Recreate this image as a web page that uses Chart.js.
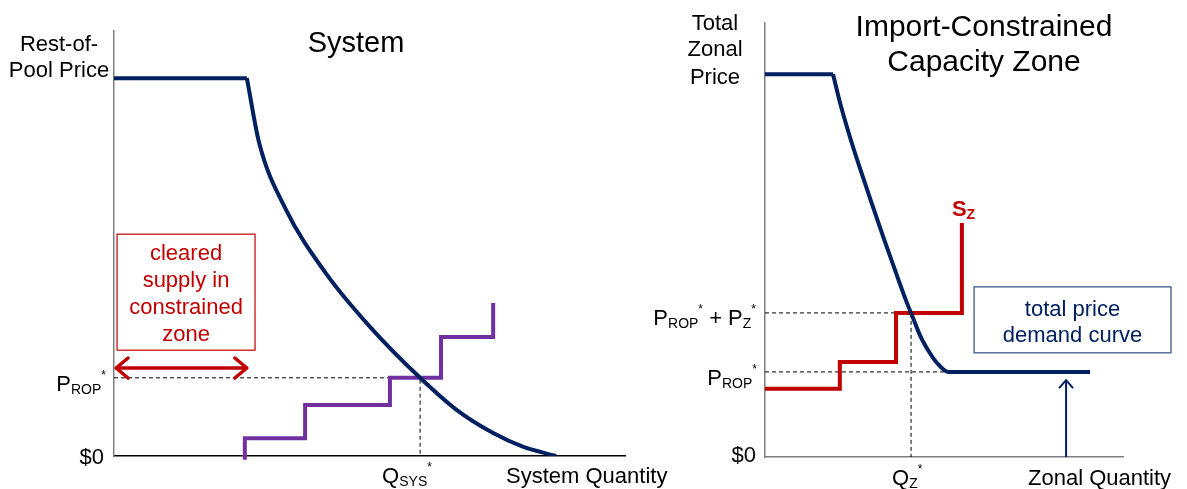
<!DOCTYPE html>
<html>
<head>
<meta charset="utf-8">
<script src="https://cdn.jsdelivr.net/npm/chart.js@4"></script>
<style>
  html, body { margin: 0; padding: 0; background: #fff; }
  body { width: 1187px; height: 489px; position: relative; overflow: hidden; }
  canvas { position: absolute; top: 0; }
  #sysChart { left: 0; }
  #zoneChart { left: 630px; }
</style>
</head>
<body>
<canvas id="sysChart" width="680" height="489"></canvas>
<canvas id="zoneChart" width="557" height="489"></canvas>
<script>
// 左圖: System (數量/價格, 0-100 的相對刻度)
const sysDemandFlatQ = [0, 26.0];
const sysDemandFlatP = [88.9, 88.9];
const sysDemandQ = [26.0, 28.4, 33.6, 41.4, 50.1, 59.9, 67.1, 74.2, 80.0, 86.5];
const sysDemandP = [88.9, 73.7, 58.1, 43.1, 30.4, 18.4, 10.8, 5.4, 2.2, 0];
const sysSupplyQ = [25.6, 25.6, 37.4, 54.0, 64.0, 74.2];
const sysSupplyP = [-0.9, 4.2, 12.0, 18.4, 28.0, 36.0];
const sysClearQ = 59.9;
const sysClearP = 18.4;
const sysArrowQ = [0.4, 26.0];
const sysArrowP = 20.7;
const sysBoxQ = [0.6, 27.6];
const sysBoxP = [24.9, 52.2];
const sysBoxLines = ['cleared', 'supply in', 'constrained', 'zone'];

// 右圖: Import-Constrained Capacity Zone
const zoneDemandFlatQ = [0, 19.0];
const zoneDemandFlatP = [88.2, 88.2];
const zoneDemandQ = [19.0, 21.0, 23.7, 26.7, 29.8, 33.0, 36.3, 39.7, 40.9, 43.5, 46.1, 48.1, 51.2, 90.8];
const zoneDemandP = [88.2, 81.5, 73.8, 66.1, 58.5, 50.8, 43.1, 35.4, 33.0, 27.7, 23.9, 21.6, 19.6, 19.6];
const zoneSupplyQ = [0, 20.9, 36.6, 55.0];
const zoneSupplyP = [15.7, 21.9, 33.2, 53.9];
const zoneClearQ = 40.8;
const zoneClearP = 33.2;
const zoneRopP = 19.6;
const zoneRopQ = 51.7;
const zoneArrowQ = 84.1;
const zoneArrowP = [0, 17.7];
const zoneBoxQ = [58.4, 113.4];
const zoneBoxP = [24.0, 39.2];
const zoneBoxLines = ['total price', 'demand curve'];

const NAVY = '#002060';
const RED = '#C00000';
const PURPLE = '#7030A0';
const GREY = '#7f7f7f';
const FONT = '"Liberation Sans", Arial, sans-serif';

const pts = (qs, ps) => qs.map((q, i) => ({ x: q, y: Array.isArray(ps) ? ps[i] : ps }));

function line(data, color, width, extra) {
    return Object.assign({
        data: data,
        showLine: true,
        borderColor: color,
        borderWidth: width,
        pointRadius: 0,
        fill: false,
        tension: 0
    }, extra || {});
}

// 帶上下標的文字
function richText(ctx, parts, x, y, opts) {
    const size = opts.size || 22;
    const weight = opts.bold ? 'bold ' : '';
    const fontFor = k => weight + Math.round(k === 'sub' ? size * 0.64 : k === 'sup' ? size * 0.55 : size) + 'px ' + FONT;
    let w = 0;
    parts.forEach(([t, k]) => { ctx.font = fontFor(k); w += ctx.measureText(t).width; });
    let cx = opts.align === 'right' ? x - w : opts.align === 'center' ? x - w / 2 : x;
    const base = y + size * 0.36;
    ctx.save();
    ctx.fillStyle = opts.color || '#000';
    ctx.textBaseline = 'alphabetic';
    ctx.textAlign = 'left';
    parts.forEach(([t, k]) => {
        ctx.font = fontFor(k);
        const dy = k === 'sub' ? size * 0.14 : k === 'sup' ? -size * 0.55 : 0;
        ctx.fillText(t, cx, base + dy);
        cx += ctx.measureText(t).width;
    });
    ctx.restore();
}

function text(ctx, t, x, y, opts) {
    richText(ctx, [[t, '']], x, y, opts);
}

function chevron(ctx, tipX, tipY, dx1, dy1, dx2, dy2) {
    ctx.beginPath();
    ctx.moveTo(tipX + dx1, tipY + dy1);
    ctx.lineTo(tipX, tipY);
    ctx.lineTo(tipX + dx2, tipY + dy2);
    ctx.stroke();
}

function baseOptions(padding, xBorder, yBorder) {
    return {
        responsive: false,
        animation: false,
        events: [],
        layout: { padding: padding },
        plugins: { legend: { display: false }, tooltip: { enabled: false } },
        scales: {
            x: {
                type: 'linear', min: 0, max: 100,
                grid: { display: false }, ticks: { display: false },
                border: { display: true, color: xBorder, width: 1.5 },
                afterFit: s => { s.height = 0; }
            },
            y: {
                type: 'linear', min: 0, max: 100,
                grid: { display: false }, ticks: { display: false },
                border: { display: true, color: yBorder, width: 1.5 },
                afterFit: s => { s.width = 0; }
            }
        }
    };
}

// 左圖註記
const sysNotes = {
    id: 'sysNotes',
    afterDraw(chart) {
        const { ctx, chartArea: a, scales: { x, y } } = chart;
        const px = v => x.getPixelForValue(v);
        const py = v => y.getPixelForValue(v);

        // 紅框
        const bx0 = px(sysBoxQ[0]), bx1 = px(sysBoxQ[1]);
        const by0 = py(sysBoxP[1]), by1 = py(sysBoxP[0]);
        ctx.save();
        ctx.strokeStyle = RED;
        ctx.lineWidth = 1.2;
        ctx.strokeRect(bx0, by0, bx1 - bx0, by1 - by0);
        ctx.restore();
        sysBoxLines.forEach((t, i) => text(ctx, t, (bx0 + bx1) / 2, by0 + 18 + i * 27, { align: 'center', color: RED }));

        // 雙箭頭
        const ax0 = px(sysArrowQ[0]), ax1 = px(sysArrowQ[1]), ay = py(sysArrowP);
        ctx.save();
        ctx.strokeStyle = RED;
        ctx.lineWidth = 3.5;
        ctx.lineCap = 'round';
        ctx.lineJoin = 'round';
        ctx.beginPath();
        ctx.moveTo(ax0 + 1, ay);
        ctx.lineTo(ax1 - 1, ay);
        ctx.stroke();
        chevron(ctx, ax0, ay, 12, -10, 12, 10);
        chevron(ctx, ax1, ay, -12, -10, -12, 10);
        ctx.restore();

        // 軸標題與標籤
        text(ctx, 'Rest-of-', a.left - 55, a.top + 12, { align: 'center' });
        text(ctx, 'Pool Price', a.left - 55, a.top + 38, { align: 'center' });
        text(ctx, 'System', a.left + 242, a.top + 11, { align: 'center', size: 29 });
        richText(ctx, [['P', ''], ['ROP', 'sub'], ['*', 'sup']], a.left - 8, py(sysClearP) + 5, { align: 'right' });
        text(ctx, '$0', a.left - 10, py(0), { align: 'right' });
        richText(ctx, [['Q', ''], ['SYS', 'sub'], ['*', 'sup']], px(sysClearQ) - 38, a.bottom + 19, {});
        text(ctx, 'System Quantity', a.right - 119, a.bottom + 19, {});
    }
};

// 右圖註記
const zoneNotes = {
    id: 'zoneNotes',
    afterDraw(chart) {
        const { ctx, chartArea: a, scales: { x, y } } = chart;
        const px = v => x.getPixelForValue(v);
        const py = v => y.getPixelForValue(v);

        // 藍框
        const bx0 = px(zoneBoxQ[0]), bx1 = px(zoneBoxQ[1]);
        const by0 = py(zoneBoxP[1]), by1 = py(zoneBoxP[0]);
        ctx.save();
        ctx.strokeStyle = '#2F4B7C';
        ctx.lineWidth = 1.2;
        ctx.strokeRect(bx0, by0, bx1 - bx0, by1 - by0);
        ctx.restore();
        zoneBoxLines.forEach((t, i) => text(ctx, t, (bx0 + bx1) / 2, by0 + 21 + i * 26, { align: 'center', color: NAVY }));

        // 向上箭頭
        const ax = px(zoneArrowQ), ay0 = py(zoneArrowP[0]), ay1 = py(zoneArrowP[1]);
        ctx.save();
        ctx.strokeStyle = NAVY;
        ctx.lineWidth = 2;
        ctx.beginPath();
        ctx.moveTo(ax, ay0);
        ctx.lineTo(ax, ay1 + 1);
        ctx.stroke();
        chevron(ctx, ax, ay1, -7, 8, 7, 8);
        ctx.restore();

        // 軸標題與標籤
        text(ctx, 'Total', a.left - 50, a.top - 1, { align: 'center' });
        text(ctx, 'Zonal', a.left - 50, a.top + 25, { align: 'center' });
        text(ctx, 'Price', a.left - 50, a.top + 53, { align: 'center' });
        text(ctx, 'Import-Constrained', a.left + 219, a.top + 2, { align: 'center', size: 30 });
        text(ctx, 'Capacity Zone', a.left + 219, a.top + 37, { align: 'center', size: 30 });
        richText(ctx, [['P', ''], ['ROP', 'sub'], ['*', 'sup'], [' + P', ''], ['Z', 'sub'], ['*', 'sup']],
            a.left - 9, py(zoneClearP) + 4, { align: 'right' });
        richText(ctx, [['P', ''], ['ROP', 'sub'], ['*', 'sup']], a.left - 8, py(zoneRopP) + 5, { align: 'right' });
        text(ctx, '$0', a.left - 9, py(0) - 3, { align: 'right' });
        richText(ctx, [['Q', ''], ['Z', 'sub'], ['*', 'sup']], px(zoneClearQ) - 19, a.bottom + 20, {});
        text(ctx, 'Zonal Quantity', a.left + 263, a.bottom + 20, {});
        richText(ctx, [['S', ''], ['Z', 'sub']], px(zoneSupplyQ[zoneSupplyQ.length - 1]) - 10, py(zoneSupplyP[zoneSupplyP.length - 1]) - 15,
            { color: RED, bold: true });
    }
};

new Chart(document.getElementById('sysChart'), {
    type: 'scatter',
    data: {
        datasets: [
            line(pts(sysDemandFlatQ, sysDemandFlatP), NAVY, 4, { order: 1 }),
            line(pts(sysDemandQ, sysDemandP), NAVY, 4, { order: 1, cubicInterpolationMode: 'monotone' }),
            line(pts(sysSupplyQ, sysSupplyP), PURPLE, 4, { order: 2, stepped: true, clip: false }),
            line([{ x: 0, y: sysClearP }, { x: sysClearQ, y: sysClearP }, { x: sysClearQ, y: 0 }], '#000', 1,
                { order: 5, borderDash: [4, 3] })
        ]
    },
    options: baseOptions({ left: 114, right: 55, top: 31, bottom: 33 }, '#000', GREY),
    plugins: [sysNotes]
});

new Chart(document.getElementById('zoneChart'), {
    type: 'scatter',
    data: {
        datasets: [
            line(pts(zoneDemandFlatQ, zoneDemandFlatP), NAVY, 4, { order: 1 }),
            line(pts(zoneDemandQ, zoneDemandP), NAVY, 4, { order: 1, cubicInterpolationMode: 'monotone', clip: false }),
            line(pts(zoneSupplyQ, zoneSupplyP), RED, 4, { order: 2, stepped: true }),
            line([{ x: 0, y: zoneClearP }, { x: zoneClearQ, y: zoneClearP }, { x: zoneClearQ, y: 0 }], '#000', 1,
                { order: 5, borderDash: [4, 3] }),
            line([{ x: 0, y: zoneRopP }, { x: zoneRopQ, y: zoneRopP }], '#000', 1, { order: 5, borderDash: [4, 3] })
        ]
    },
    options: baseOptions({ left: 135, right: 64, top: 23, bottom: 32 }, GREY, GREY),
    plugins: [zoneNotes]
});
</script>
</body>
</html>
